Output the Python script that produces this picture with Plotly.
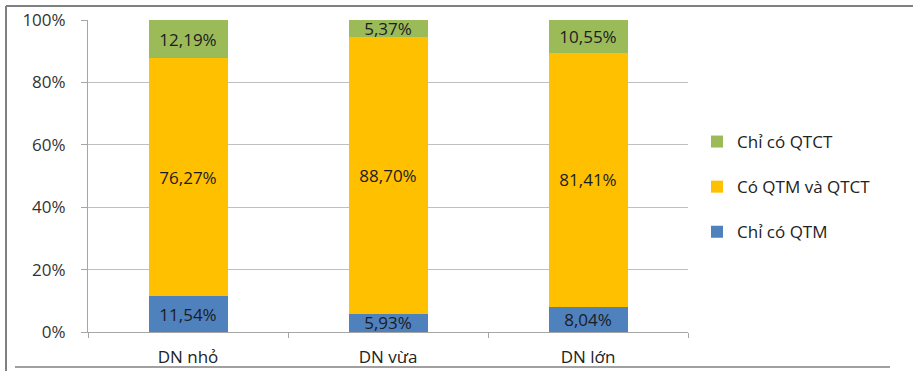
import plotly.graph_objects as go

categories = ["DN nhỏ", "DN vừa", "DN lớn"]
chi_co_qtm = [11.54, 5.93, 8.04]
co_qtm_va_qtct = [76.27, 88.70, 81.41]
chi_co_qtct = [12.19, 5.37, 10.55]
y_ticks = [0, 20, 40, 60, 80, 100]
y_tick_labels = ["0%", "20%", "40%", "60%", "80%", "100%"]

def fmt(v):
    return f"{v:.2f}%".replace(".", ",")

series = [
    ("Chỉ có QTM", chi_co_qtm, "#4F81BD"),
    ("Có QTM và QTCT", co_qtm_va_qtct, "#FFC000"),
    ("Chỉ có QTCT", chi_co_qtct, "#9BBB59"),
]

FONT = "'Open Sans', 'Noto Sans', sans-serif"
FS = 17
fig = go.Figure()
for i, (name, vals, col) in enumerate(series):
    fig.add_trace(go.Bar(
        name=name, x=categories, y=vals, marker=dict(color=col, line=dict(width=0)),
        text=[fmt(v) for v in vals], textposition="inside", insidetextanchor="middle",
        constraintext="none", textangle=0,
        textfont=dict(family=FONT, size=FS, color="#1c1c24"),
        legendgroup=f"g{i}", legendrank=1000 - i, hoverinfo="skip",
    ))

W, H = 913, 371
ml, mr, mt, mb = 88, 225, 20, 39
pw = W - ml - mr
ph = H - mt - mb

def px(x):
    return (x - ml) / pw

def py(y):
    return (H - mb - y) / ph

fig.update_layout(
    width=W, height=H, barmode="stack", bargap=0.605,
    margin=dict(l=ml, r=mr, t=mt, b=mb, autoexpand=False),
    paper_bgcolor="white", plot_bgcolor="white",
    font=dict(family=FONT, size=FS, color="#333333"),
    showlegend=True,
    legend=dict(x=px(697), y=py(124), xanchor="left", yanchor="top",
                traceorder="grouped", tracegroupgap=20,
                font=dict(family=FONT, size=FS, color="#222222"),
                itemwidth=30, bgcolor="rgba(0,0,0,0)"),
    xaxis=dict(showline=True, linecolor="#A6A6A6", linewidth=1, automargin=False,
               ticks="outside", tickson="boundaries", ticklen=5, tickcolor="#A6A6A6",
               ticklabelstandoff=10,
               tickfont=dict(family=FONT, size=FS, color="#222222"), fixedrange=True),
    yaxis=dict(range=[0, 100], tickmode="array", tickvals=y_ticks, ticktext=y_tick_labels,
               showline=True, linecolor="#A6A6A6", linewidth=1, automargin=False,
               ticks="outside", ticklen=6, tickcolor="#A6A6A6",
               ticklabelstandoff=12,
               showgrid=True, gridcolor="#BFBFBF", gridwidth=1,
               tickfont=dict(family=FONT, size=FS, color="#333333"), zeroline=False),
    shapes=[
        dict(type="line", xref="paper", yref="paper", x0=px(6), x1=px(913), y0=py(6), y1=py(6),
             line=dict(color="#808080", width=2)),
        dict(type="line", xref="paper", yref="paper", x0=px(6), x1=px(6), y0=py(6), y1=py(371),
             line=dict(color="#808080", width=2)),
        dict(type="line", xref="paper", yref="paper", x0=px(15), x1=px(890), y0=py(367), y1=py(367),
             line=dict(color="#808080", width=1.5)),
    ],
)

fig.write_html("out.html")
